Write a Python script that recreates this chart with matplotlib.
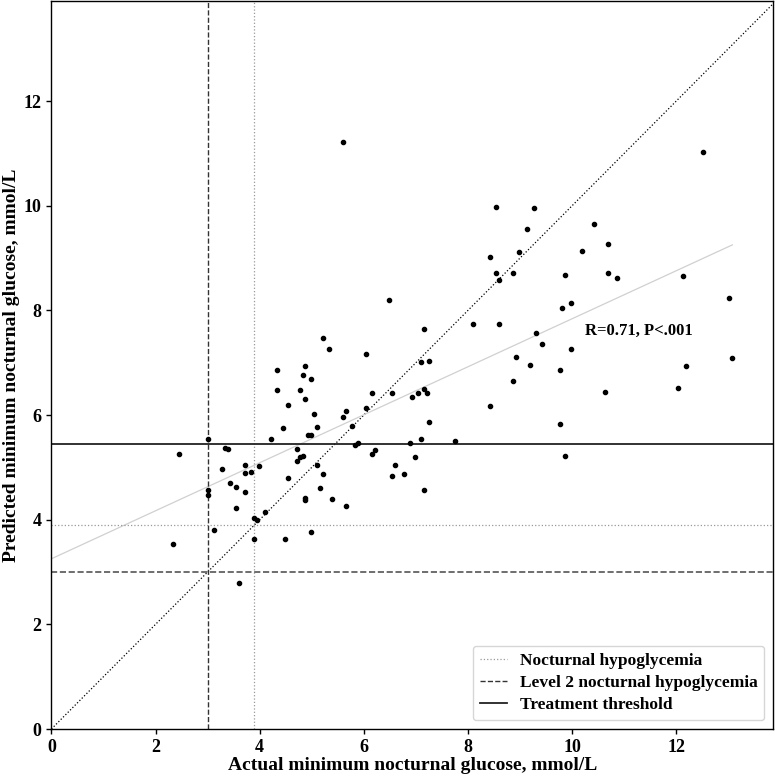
import numpy as np
import matplotlib
matplotlib.use('Agg')
import matplotlib.pyplot as plt

plt.rcParams['font.family'] = ['Liberation Serif', 'DejaVu Serif']
plt.rcParams['font.weight'] = 'bold'

# actual vs predicted minimum nocturnal glucose (mmol/L)
actual = [5.60, 6.49, 5.21, 5.33, 6.04, 4.33, 4.88, 4.83, 4.99, 4.33,
          4.77, 4.88, 6.15, 6.54, 4.55, 5.05, 4.44, 5.10, 4.93, 4.99,
          4.22, 3.00, 3.34, 3.39, 4.71, 2.45, 4.72, 4.78, 4.83, 5.10,
          3.72, 3.99, 3.28, 3.72, 3.83, 4.55, 5.15, 5.21, 3.44, 3.55,
          3.00, 3.00, 3.72, 4.88, 4.88, 3.55, 4.11, 3.89, 3.94, 3.12,
          4.99, 2.33, 3.89, 4.49, 3.60, 7.16, 7.09, 7.26, 6.93, 7.04,
          7.16, 7.21, 5.66, 5.60, 6.04, 5.77, 7.26, 7.09, 7.76, 6.88,
          5.83, 5.89, 6.21, 6.15, 5.38, 5.66, 6.60, 6.54, 6.77, 6.99,
          7.16, 12.52, 8.54, 9.26, 9.14, 10.42, 10.69, 10.19, 8.43, 8.98,
          8.54, 8.59, 8.87, 9.86, 10.69, 10.86, 12.13, 13.01, 9.98, 9.81,
          8.09, 8.59, 9.31, 9.43, 9.98, 8.93, 9.20, 9.76, 8.87, 8.43,
          10.64, 9.76, 9.86, 12.03, 12.19, 13.08]
predicted = [11.22, 8.19, 7.48, 7.26, 7.17, 6.86, 6.94, 6.76, 6.68, 6.48,
             6.47, 6.30, 6.42, 6.43, 6.20, 6.02, 5.76, 5.78, 5.62, 5.62,
             5.55, 5.54, 5.38, 5.35, 5.36, 5.26, 5.12, 5.19, 5.22, 5.05,
             5.04, 5.03, 4.96, 4.89, 4.92, 4.79, 4.61, 4.88, 4.70, 4.63,
             4.56, 4.47, 4.53, 4.41, 4.37, 4.22, 4.15, 4.04, 3.99, 3.81,
             3.77, 3.54, 3.63, 3.63, 2.79, 7.64, 7.01, 7.04, 6.34, 6.42,
             6.50, 6.43, 6.08, 5.97, 6.13, 5.80, 5.87, 5.55, 5.50, 5.47,
             5.43, 5.47, 5.33, 5.26, 4.40, 4.26, 5.05, 4.84, 4.87, 5.19,
             4.56, 11.03, 9.98, 9.95, 9.55, 9.66, 9.27, 9.14, 9.03, 9.11,
             8.71, 8.59, 8.71, 8.68, 8.72, 8.62, 8.65, 8.23, 8.15, 8.04,
             7.74, 7.75, 7.56, 7.35, 7.27, 7.11, 6.95, 6.87, 6.65, 6.18,
             6.45, 5.82, 5.21, 6.52, 6.93, 7.10]

hypo = 3.9
level2 = 3.0
treatment = 5.45
annot = 'R=0.71, P<.001'

x = np.array(actual)
y = np.array(predicted)
xmax, ymax = 13.86, 13.92

fig = plt.figure(figsize=(7.75, 7.77), dpi=100)
ax = fig.add_axes([51.4 / 775, 48 / 777, (773 - 51.4) / 775, (728.8 - 0.5) / 777])

# identity line
ax.plot([0, xmax], [0, xmax], color='black', linestyle=':', linewidth=0.9)
# regression line
b, a = np.polyfit(x, y, 1)
xs = np.array([0, x.max()])
ax.plot(xs, a + b * xs, color='#d0d0d0', linewidth=0.9)

ax.axvline(hypo, color='#999999', linestyle=':', linewidth=0.9, label='Nocturnal hypoglycemia')
ax.axhline(hypo, color='#999999', linestyle=':', linewidth=0.9)
ax.axvline(level2, color='#333333', linestyle='--', linewidth=1.0, label='Level 2 nocturnal hypoglycemia')
ax.axhline(level2, color='#555555', linestyle='--', linewidth=1.2)
ax.axhline(treatment, color='#222222', linestyle='-', linewidth=1.3, label='Treatment threshold')

ax.scatter(x, y, s=9, color='black', zorder=3)

ax.text(10.25, 7.6, annot, fontsize=12, fontweight='bold', va='center', ha='left')

ax.set_xlim(0, xmax)
ax.set_ylim(0, ymax)
ax.set_xticks(range(0, 13, 2))
ax.set_yticks(range(0, 13, 2))
ax.tick_params(labelsize=13, length=3.5, width=1)
for lab in ax.get_xticklabels() + ax.get_yticklabels():
    lab.set_fontweight('bold')
for s in ax.spines.values():
    s.set_linewidth(1.0)

ax.set_xlabel('Actual minimum nocturnal glucose, mmol/L', fontsize=14, fontweight='bold', labelpad=1)
ax.set_ylabel('Predicted minimum nocturnal glucose, mmol/L', fontsize=14, fontweight='bold', labelpad=3)

leg = ax.legend(loc='lower right', frameon=True, fancybox=True, borderaxespad=0.5,
                handlelength=1.6, handletextpad=0.7, labelspacing=0.35,
                prop={'weight': 'bold', 'size': 12.5})
leg.get_frame().set_edgecolor('#cccccc')

plt.savefig('out.png', dpi=100)
